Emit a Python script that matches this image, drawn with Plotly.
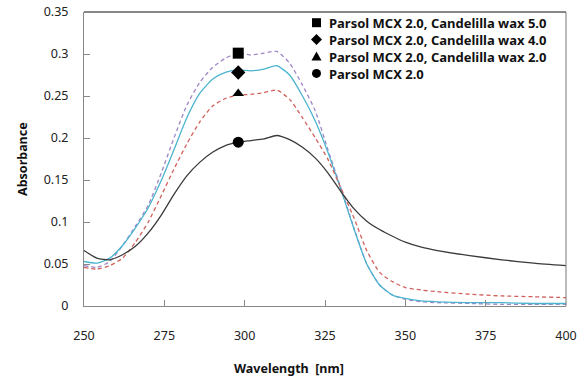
import plotly.graph_objects as go

wavelength = [250, 254, 258, 262, 266, 270, 274, 278, 282, 286, 290, 294, 298, 302, 306, 310,
              314, 318, 322, 326, 330, 334, 338, 342, 346, 350, 355, 360, 370, 380, 390, 400]

abs_wax50 = [0.048, 0.046, 0.053, 0.072, 0.095, 0.120, 0.158, 0.200, 0.239, 0.266, 0.284, 0.295,
             0.301, 0.299, 0.301, 0.303, 0.289, 0.263, 0.232, 0.185, 0.140, 0.093, 0.050, 0.025,
             0.013, 0.008, 0.005, 0.004, 0.003, 0.002, 0.002, 0.002]
abs_wax40 = [0.053, 0.051, 0.057, 0.072, 0.093, 0.117, 0.149, 0.186, 0.224, 0.253, 0.270, 0.278,
             0.281, 0.280, 0.282, 0.286, 0.275, 0.250, 0.220, 0.182, 0.138, 0.092, 0.050, 0.025,
             0.013, 0.009, 0.006, 0.005, 0.004, 0.004, 0.003, 0.003]
abs_wax20 = [0.046, 0.044, 0.048, 0.057, 0.076, 0.100, 0.131, 0.163, 0.193, 0.219, 0.238, 0.247,
             0.251, 0.252, 0.254, 0.257, 0.246, 0.224, 0.200, 0.174, 0.140, 0.105, 0.066, 0.040,
             0.029, 0.022, 0.019, 0.017, 0.014, 0.012, 0.011, 0.010]
abs_mcx = [0.066, 0.057, 0.055, 0.061, 0.071, 0.087, 0.108, 0.133, 0.155, 0.171, 0.183, 0.191,
           0.195, 0.197, 0.199, 0.203, 0.198, 0.189, 0.176, 0.158, 0.136, 0.116, 0.101, 0.091,
           0.083, 0.076, 0.070, 0.066, 0.060, 0.055, 0.051, 0.048]

marker_wavelength = 298
marker_values = [0.301, 0.278, 0.253, 0.195]

names = ["Parsol MCX 2.0, Candelilla wax 5.0", "Parsol MCX 2.0, Candelilla wax 4.0",
         "Parsol MCX 2.0, Candelilla wax 2.0", "Parsol MCX 2.0"]
series = [abs_wax50, abs_wax40, abs_wax20, abs_mcx]
colors = ["#9F86C6", "#4BB4CF", "#D0605C", "#3A3A3A"]
dashes = ["4px,3px", "solid", "4px,3px", "solid"]
symbols = ["square", "diamond", "triangle-up", "circle"]
sizes = [11, 11, 10, 11]

x_ticks = [250, 275, 300, 325, 350, 375, 400]
y_ticks = [0, 0.05, 0.1, 0.15, 0.2, 0.25, 0.3, 0.35]
y_tick_text = ["0", "0.05", "0.1", "0.15", "0.2", "0.25", "0.3", "0.35"]

FONT = "Noto Sans"
LEG_SIZE = 13

fig = go.Figure()
for vals, col, dsh in zip(series, colors, dashes):
    fig.add_trace(go.Scatter(x=wavelength, y=vals, mode="lines", showlegend=False,
                             line=dict(color=col, width=1.3, dash=dsh, shape="spline", smoothing=0.6),
                             hoverinfo="skip"))
for name, val, sym, sz in zip(names, marker_values, symbols, sizes):
    fig.add_trace(go.Scatter(x=[marker_wavelength], y=[val], mode="markers", name=name,
                             showlegend=False,
                             marker=dict(symbol=sym, size=sz, color="black")))

# Legend drawn in figure-paper coordinates (plot area: x 84..566 px, y 12..306 px)
PL, PW, PT, PH = 84.0, 482.0, 12.0, 294.0


def px(xp):
    return (xp - PL) / PW


def py(yp):
    return (PT + PH - yp) / PH


first_row = 22.7
row_step = 1.3 * LEG_SIZE
legend_rows_y = [first_row + i * row_step for i in range(len(names))]
mark_x = 316.5
text_x = 327.0
shapes = [
    dict(type="line", xref="paper", yref="paper", x0=0, x1=1, y0=1, y1=1,
         line=dict(color="#111", width=1)),
    dict(type="line", xref="paper", yref="paper", x0=1, x1=1, y0=0, y1=1,
         line=dict(color="#777", width=1)),
]
annotations = [
    dict(text="<b>Wavelength  [nm]</b>", xref="paper", yref="paper", x=px(289), y=py(368),
         xanchor="center", yanchor="middle", showarrow=False,
         font=dict(family=FONT, size=12.5, color="#111")),
    dict(text="<b>Absorbance</b>", xref="paper", yref="paper", x=px(22), y=0.5,
         xanchor="center", yanchor="middle", showarrow=False, textangle=-90,
         font=dict(family=FONT, size=12.5, color="#111")),
]
h = 4.5
for sym, ry in zip(symbols, legend_rows_y):
    if sym == "square":
        shapes.append(dict(type="rect", xref="paper", yref="paper",
                           x0=px(mark_x - h), x1=px(mark_x + h), y0=py(ry + h), y1=py(ry - h),
                           fillcolor="black", line=dict(width=0)))
    elif sym == "circle":
        shapes.append(dict(type="circle", xref="paper", yref="paper",
                           x0=px(mark_x - h), x1=px(mark_x + h), y0=py(ry + h), y1=py(ry - h),
                           fillcolor="black", line=dict(width=0)))
    elif sym == "diamond":
        d = 5.5
        path = "M {} {} L {} {} L {} {} L {} {} Z".format(
            px(mark_x), py(ry - d), px(mark_x + d), py(ry), px(mark_x), py(ry + d), px(mark_x - d), py(ry))
        shapes.append(dict(type="path", xref="paper", yref="paper", path=path,
                           fillcolor="black", line=dict(width=0)))
    else:
        t = 5.0
        path = "M {} {} L {} {} L {} {} Z".format(
            px(mark_x), py(ry - t), px(mark_x + t), py(ry + t * 0.8), px(mark_x - t), py(ry + t * 0.8))
        shapes.append(dict(type="path", xref="paper", yref="paper", path=path,
                           fillcolor="black", line=dict(width=0)))

legend_text = "<br>".join("<b>" + n + "</b>" for n in names)
annotations.append(dict(text=legend_text, xref="paper", yref="paper", align="left",
                        x=px(text_x), y=py((legend_rows_y[0] + legend_rows_y[-1]) / 2),
                        xanchor="left", yanchor="middle", showarrow=False,
                        font=dict(family=FONT, size=LEG_SIZE, color="#111")))

fig.update_layout(
    width=586, height=381,
    margin=dict(l=84, r=20, t=12, b=75, autoexpand=False),
    paper_bgcolor="white", plot_bgcolor="white",
    font=dict(family=FONT, size=12, color="#222"),
    showlegend=False,
    xaxis=dict(range=[250, 400], tickvals=x_ticks, ticks="inside", ticklen=6,
               tickcolor="#888", showline=True, linecolor="#888", linewidth=1,
               showgrid=False, zeroline=False, ticklabelstandoff=18, automargin=False,
               tickfont=dict(family=FONT, size=12.5, color="#222")),
    yaxis=dict(range=[0, 0.35], tickvals=y_ticks, ticktext=y_tick_text, ticks="inside",
               ticklen=6, tickcolor="#888", showline=True, linecolor="#888", linewidth=1,
               showgrid=False, zeroline=False, ticklabelstandoff=12, automargin=False,
               tickfont=dict(family=FONT, size=12.5, color="#222")),
    shapes=shapes,
    annotations=annotations,
)

fig.write_html("out.html")
